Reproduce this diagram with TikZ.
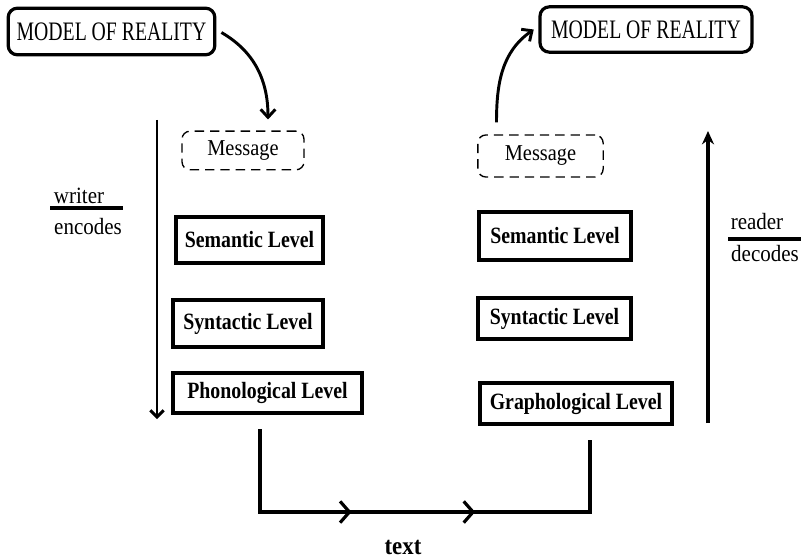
\documentclass[tikz,border=0pt]{standalone}
\usepackage{fontspec}
\setmainfont[FakeStretch=0.9]{Liberation Serif}
\newfontfamily\modelfont[FakeStretch=0.74]{Liberation Serif}
\newfontfamily\lvlfont[FakeStretch=0.85]{Liberation Serif}
\usetikzlibrary{arrows.meta,decorations.markings}

\begin{document}
\begin{tikzpicture}
  [
    x=0.75pt, y=-0.75pt,
    >={Straight Barb[length=6pt,width=11pt]},
    model/.style = {draw, line width=2.4pt, rounded corners=7pt, inner sep=0pt,
                    font=\modelfont\fontsize{20}{22}\selectfont},
    msg/.style   = {draw, line width=1pt, dash pattern=on 7pt off 4.5pt,
                    rounded corners=6pt, inner sep=0pt,
                    font=\fontsize{17}{19}\selectfont},
    level/.style = {draw, line width=3pt, inner sep=0pt,
                    font=\lvlfont\bfseries\fontsize{17.5}{19}\selectfont},
    lbl/.style   = {inner sep=0pt, font=\fontsize{17.5}{19}\selectfont},
    arr/.style   = {line width=2.2pt, ->},
    barb/.tip    = {Straight Barb[length=7pt,width=16pt]},
  ]

\useasboundingbox (0,0) rectangle (801,560);

%Model of reality, writer side and reader side
\node[model, minimum width=155pt, minimum height=35pt] (modl) at (111.5,31.5) {MODEL OF REALITY};
\node[model, minimum width=159pt, minimum height=34pt] (modr) at (646,29.5) {MODEL OF REALITY};

%Messages
\node[msg, minimum width=91.5pt, minimum height=29pt] (msgl) at (243,150.5) {Message};
\node[msg, minimum width=94pt, minimum height=31.5pt] (msgr) at (540.5,156) {Message};

%Levels, name/text/x/y/width/height
\foreach \name/\txt/\x/\y/\w/\h in
  {seml/Semantic Level/249.5/240/110/34.5,
   synl/Syntactic Level/248/323.5/112.5/35,
   phon/Phonological Level/267.5/393/142/30,
   semr/Semantic Level/555/236/114/36,
   synr/Syntactic Level/554.5/318.5/115/31,
   graph/Graphological Level/576/403.5/144/31}
{
\node[level, minimum width=\w pt, minimum height=\h pt] (\name) at (\x,\y) {\txt};
}

%Curved arrows between model and message
\draw[arr] (modl.east) ++(5,1) to[out=-30,in=90] ([xshift=18.75pt,yshift=8.25pt]msgl.north);
\draw[arr] ([xshift=-33pt,yshift=9pt]msgr.north) to[out=90,in=-145] ([xshift=-3.5pt]modr.west);

%Writer encodes (down) and reader decodes (up)
\coordinate (wtop) at (157,120);
\coordinate (wbot) at (157,419);
\coordinate (rbot) at (708,423);
\coordinate (rtop) at (708,131);
\draw[line width=2.2pt, -{Straight Barb[length=5pt,width=10pt]}] (wtop) -- (wbot);
\draw[line width=2.4pt, -{Stealth[length=10pt,width=9pt]}] (rbot) -- (rtop);

\node[lbl] (writer)  at (79,196)  {writer};
\node[lbl] (encodes) at (88,227)  {encodes};
\draw[line width=3pt] (50,208.5) -- (123,208.5);

\node[lbl] (reader)  at (757,222) {reader};
\node[lbl] (decodes) at (765,254) {decodes};
\draw[line width=3pt] (728,239) -- (801,239);

%Text path from phonological level to graphological level
\draw[line width=2.4pt,
      postaction={decorate},
      decoration={markings,
        mark=at position 0.36 with {\arrow{barb}},
        mark=at position 0.615 with {\arrow{barb}}}]
  (phon.south) ++(-7.5,14) -- ++(0,83) -| ([xshift=10.5pt,yshift=-10.5pt]graph.south);

\node[lbl, font=\bfseries\fontsize{19}{20}\selectfont] (text) at (403,547) {text};

%
\end{tikzpicture}
\end{document}
